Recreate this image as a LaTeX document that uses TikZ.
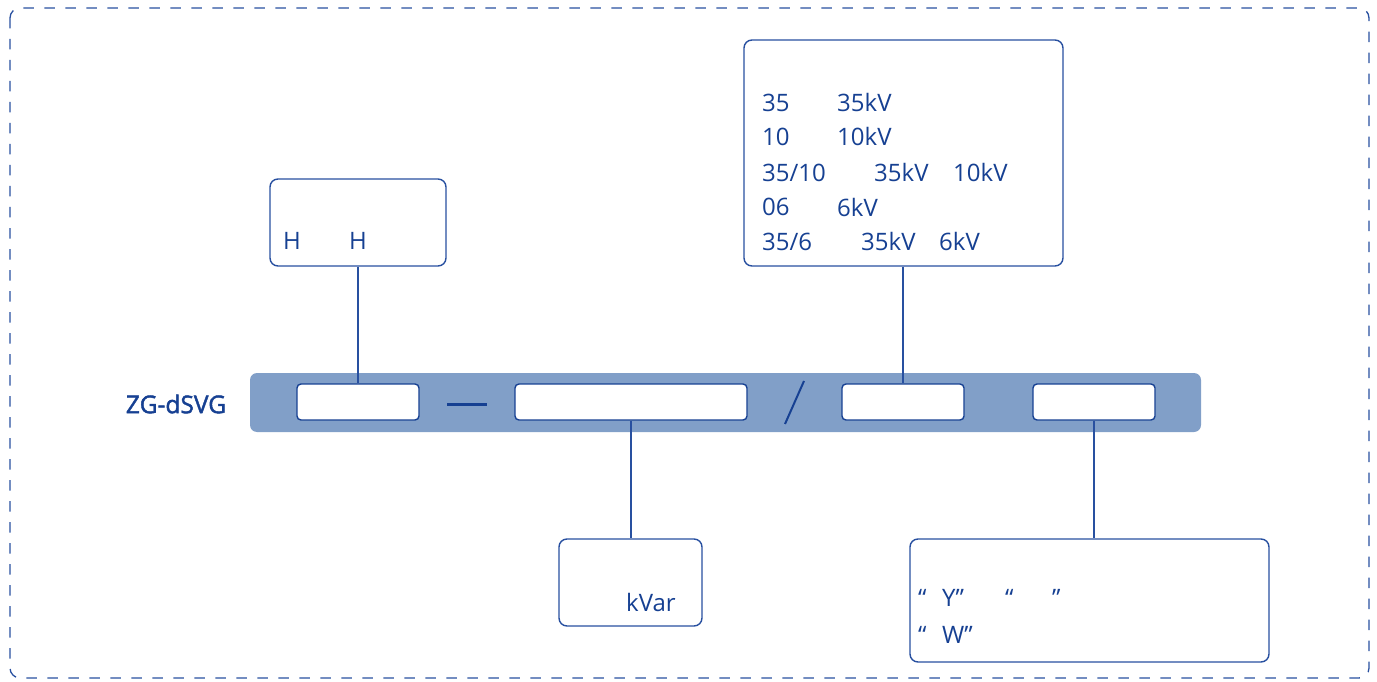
\documentclass[tikz,border=0pt]{standalone}
\usepackage{fontspec}
\setmainfont{Open Sans}
\newfontfamily\modelfont[FakeBold=1.8]{Open Sans}
\usetikzlibrary{positioning}

\definecolor{lineblue}{RGB}{40,80,160}
\definecolor{textblue}{RGB}{22,64,146}
\definecolor{barblue}{RGB}{129,159,200}

\tikzset{
    infobox/.style={draw=lineblue, line width=1.4pt, rounded corners=8pt, fill=white, inner sep=0pt},
    slot/.style={draw=textblue, line width=1.4pt, rounded corners=4pt, fill=white, inner sep=0pt,
        minimum height=36pt},
    lbl/.style={anchor=west, inner sep=0pt, text=textblue, font=\fontsize{24}{28}\selectfont},
    link/.style={draw=lineblue, line width=1.4pt}
}

\begin{document}
\begin{tikzpicture}[x=1pt, y=-1pt]
    \useasboundingbox (0,0) rectangle (1377,682);
    % Outer frame
    \draw[lineblue, line width=1.3pt, dash pattern=on 10.5pt off 10.5pt, rounded corners=10pt]
        (10,8) rectangle (1369,678);

    % Model code bar
    \node[fill=barblue, rounded corners=7pt, minimum width=951pt, minimum height=59pt, inner sep=0pt]
        (bar) at (725.5,402.5) {};
    \node[slot, minimum width=122pt] (series) at (358,402) {};
    \node[slot, minimum width=232pt] (capacity) at (631,402) {};
    \node[slot, minimum width=122pt] (voltage) at (903,402) {};
    \node[slot, minimum width=122pt] (cooling) at (1094,402) {};
    \draw[textblue, line width=3pt] (447,404) -- (487,404);
    \draw[textblue, line width=2pt] (785,424) -- (804,381);
    \node[lbl, anchor=center, font=\fontsize{24.5}{28}\modelfont] (model) at (176,404) {ZG-dSVG};

    % Description boxes
    \node[infobox, minimum width=176pt, minimum height=87pt] (hbox) at (358,222.5) {};
    \node[infobox, minimum width=319pt, minimum height=226pt] (vbox) at (903.5,153) {};
    \node[infobox, minimum width=143pt, minimum height=87pt] (kbox) at (630.5,582.5) {};
    \node[infobox, minimum width=359pt, minimum height=123pt] (cbox) at (1089.5,600.5) {};

    % Connections
    \draw[link] (hbox.south) -- (series.north);
    \draw[link] (voltage.north |- vbox.south) -- (voltage.north);
    \draw[link] (capacity.south) -- (capacity.south |- kbox.north);
    \draw[link] (cooling.south) -- (cooling.south |- cbox.north);

    % Box texts
    \node[lbl] (h1) at (283,241) {H};
    \node[lbl] (h2) at (349,241) {H};

    \node[lbl] (v1a) at (762,103) {35};
    \node[lbl] (v1b) at (837,103) {35kV};
    \node[lbl] (v2a) at (762,137) {10};
    \node[lbl] (v2b) at (837,137) {10kV};
    \node[lbl] (v3a) at (762,173) {35/10};
    \node[lbl] (v3b) at (874,173) {35kV};
    \node[lbl] (v3c) at (953,173) {10kV};
    \node[lbl] (v4a) at (762,207) {06};
    \node[lbl] (v4b) at (837,207) {6kV};
    \node[lbl] (v5a) at (762,242) {35/6};
    \node[lbl] (v5b) at (861,242) {35kV};
    \node[lbl] (v5c) at (939,242) {6kV};

    \node[lbl] (kvar) at (626,602) {kVar};

    \node[lbl] (c1a) at (918,598) {“};
    \node[lbl] (c1b) at (942,598) {Y”};
    \node[lbl] (c1c) at (1005,598) {“};
    \node[lbl] (c1d) at (1052,598) {”};
    \node[lbl] (c2a) at (918,635) {“};
    \node[lbl] (c2b) at (942,635) {W”};
\end{tikzpicture}
\end{document}
